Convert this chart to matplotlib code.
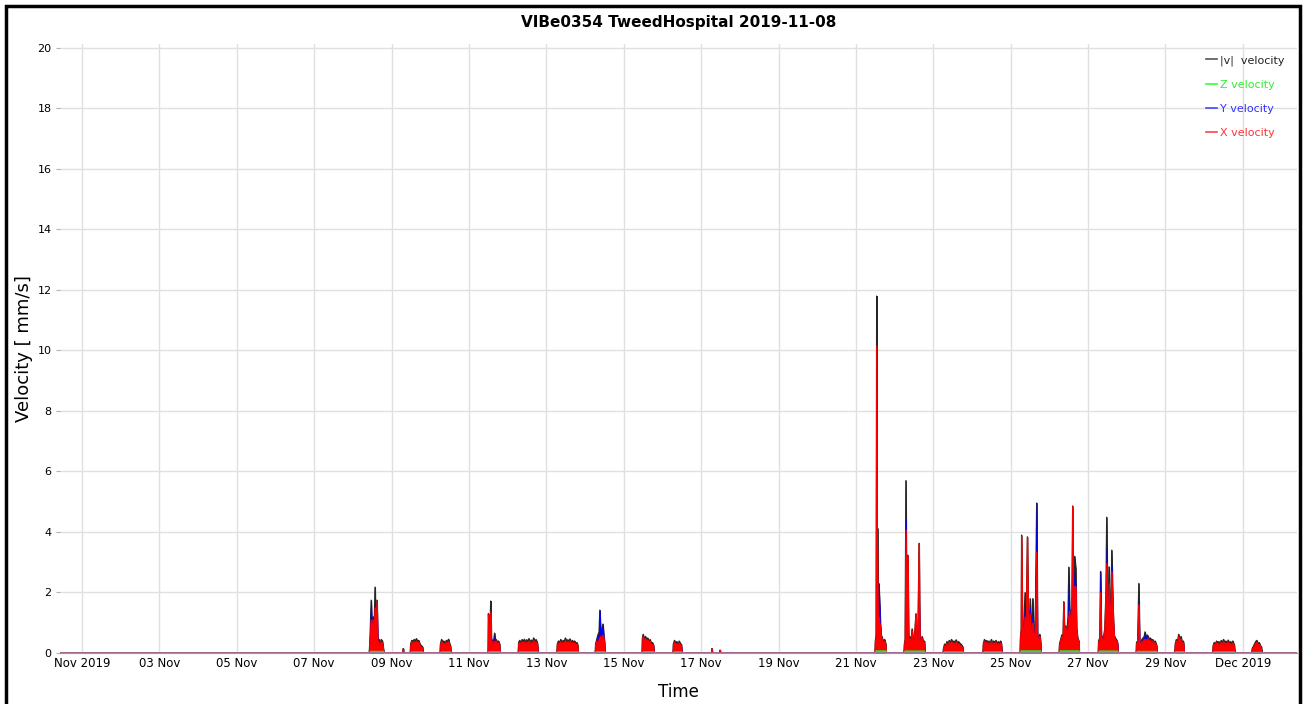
import numpy as np
import matplotlib
matplotlib.use("Agg")
import matplotlib.pyplot as plt
from matplotlib.lines import Line2D
from matplotlib.patches import Rectangle

# time in days after 1 Nov 2019 00:00, one list per working burst
burst_t = [
    [7.42, 7.44, 7.47, 7.49, 7.52, 7.55, 7.57, 7.59, 7.62, 7.64, 7.67, 7.70, 7.73, 7.76, 7.80],
    [8.29, 8.30, 8.31],
    [8.48, 8.49, 8.52, 8.55, 8.58, 8.61, 8.64, 8.67, 8.70, 8.73, 8.76, 8.79, 8.80, 8.81],
    [9.25, 9.26, 9.29, 9.32, 9.35, 9.38, 9.41, 9.44, 9.47, 9.50, 9.52, 9.53],
    [10.49, 10.50, 10.52, 10.545, 10.56, 10.575, 10.60, 10.63, 10.66, 10.68, 10.70, 10.73, 10.76, 10.79, 10.80],
    [11.27, 11.28, 11.31, 11.34, 11.37, 11.40, 11.43, 11.46, 11.49, 11.52, 11.55, 11.58, 11.61, 11.64, 11.67, 11.70, 11.73, 11.76, 11.77, 11.78],
    [12.27, 12.28, 12.31, 12.34, 12.37, 12.40, 12.43, 12.46, 12.49, 12.52, 12.55, 12.58, 12.61, 12.64, 12.67, 12.70, 12.73, 12.76, 12.79, 12.81, 12.82],
    [13.26, 13.27, 13.30, 13.33, 13.36, 13.38, 13.40, 13.43, 13.46, 13.48, 13.50, 13.51],
    [14.47, 14.48, 14.50, 14.53, 14.56, 14.59, 14.62, 14.65, 14.68, 14.71, 14.74, 14.77, 14.78],
    [15.27, 15.28, 15.31, 15.34, 15.37, 15.40, 15.43, 15.46, 15.49, 15.50],
    [16.27, 16.28, 16.29, 16.48, 16.49, 16.50],
    [20.49, 20.50, 20.52, 20.535, 20.545, 20.555, 20.57, 20.59, 20.61, 20.63, 20.65, 20.68, 20.71, 20.74, 20.77, 20.78],
    [21.24, 21.25, 21.27, 21.29, 21.31, 21.34, 21.36, 21.39, 21.42, 21.45, 21.48, 21.51, 21.55, 21.57, 21.60, 21.63, 21.65, 21.68, 21.71, 21.74, 21.77, 21.78],
    [22.25, 22.26, 22.29, 22.32, 22.35, 22.38, 22.41, 22.44, 22.47, 22.50, 22.53, 22.56, 22.59, 22.62, 22.65, 22.68, 22.71, 22.74, 22.76, 22.77],
    [23.28, 23.29, 23.32, 23.35, 23.38, 23.41, 23.44, 23.47, 23.50, 23.53, 23.56, 23.59, 23.62, 23.65, 23.68, 23.71, 23.74, 23.76, 23.77],
    [24.24, 24.25, 24.27, 24.28, 24.30, 24.33, 24.37, 24.40, 24.43, 24.45, 24.48, 24.50, 24.53, 24.57, 24.60, 24.63, 24.67, 24.69, 24.72, 24.75, 24.77, 24.78],
    [25.25, 25.26, 25.29, 25.32, 25.35, 25.37, 25.39, 25.42, 25.45, 25.48, 25.50, 25.52, 25.55, 25.58, 25.60, 25.62, 25.65, 25.68, 25.70, 25.73, 25.76, 25.77],
    [26.26, 26.27, 26.30, 26.32, 26.34, 26.37, 26.40, 26.43, 26.46, 26.48, 26.50, 26.52, 26.54, 26.57, 26.59, 26.61, 26.64, 26.67, 26.70, 26.73, 26.76, 26.77],
    [27.24, 27.25, 27.28, 27.31, 27.33, 27.36, 27.39, 27.42, 27.45, 27.47, 27.50, 27.53, 27.55, 27.58, 27.61, 27.64, 27.67, 27.70, 27.73, 27.76, 27.77, 27.78],
    [28.24, 28.25, 28.28, 28.31, 28.34, 28.37, 28.40, 28.43, 28.46, 28.47, 28.48],
    [29.22, 29.23, 29.26, 29.29, 29.32, 29.35, 29.38, 29.41, 29.44, 29.47, 29.50, 29.53, 29.56, 29.59, 29.62, 29.65, 29.68, 29.71, 29.74, 29.77, 29.78, 29.79],
    [30.23, 30.24, 30.27, 30.30, 30.33, 30.36, 30.39, 30.42, 30.45, 30.48, 30.49],
]

# |v| velocity [mm/s]
burst_v = [
    [0, 0.5, 1.75, 0.9, 1.2, 1.0, 2.18, 0.8, 1.75, 0.5, 0.45, 0.3, 0.45, 0.4, 0],
    [0, 0.15, 0],
    [0, 0.3, 0.42, 0.38, 0.45, 0.4, 0.48, 0.35, 0.42, 0.3, 0.25, 0.22, 0.2, 0],
    [0, 0.3, 0.45, 0.35, 0.4, 0.28, 0.42, 0.38, 0.46, 0.3, 0.25, 0],
    [0, 1.3, 0.6, 1.0, 1.72, 0.5, 0.4, 0.35, 0.66, 0.4, 0.45, 0.35, 0.4, 0.3, 0],
    [0, 0.35, 0.42, 0.3, 0.45, 0.38, 0.46, 0.32, 0.44, 0.4, 0.48, 0.34, 0.43, 0.38, 0.5, 0.33, 0.45, 0.36, 0.3, 0],
    [0, 0.3, 0.4, 0.35, 0.45, 0.32, 0.42, 0.38, 0.5, 0.35, 0.44, 0.4, 0.47, 0.33, 0.42, 0.36, 0.4, 0.3, 0.35, 0.25, 0],
    [0, 0.3, 0.45, 0.6, 0.7, 1.42, 0.7, 0.8, 0.96, 0.6, 0.4, 0],
    [0, 0.5, 0.62, 0.45, 0.55, 0.42, 0.5, 0.38, 0.45, 0.3, 0.35, 0.25, 0],
    [0, 0.3, 0.42, 0.3, 0.38, 0.25, 0.4, 0.32, 0.28, 0],
    [0, 0.15, 0, 0, 0.1, 0],
    [0, 0.4, 0.6, 11.8, 0.8, 4.13, 1.0, 2.3, 1.65, 1.0, 0.6, 0.5, 0.35, 0.45, 0.3, 0],
    [0, 0.3, 0.45, 5.7, 0.5, 3.24, 0.4, 0.55, 0.35, 0.8, 0.4, 0.5, 1.3, 0.45, 0.5, 3.63, 0.5, 0.4, 0.55, 0.35, 0.4, 0],
    [0, 0.15, 0.3, 0.25, 0.38, 0.3, 0.42, 0.35, 0.45, 0.32, 0.4, 0.36, 0.44, 0.3, 0.38, 0.33, 0.3, 0.25, 0.2, 0],
    [0, 0.3, 0.45, 0.35, 0.42, 0.3, 0.4, 0.33, 0.45, 0.28, 0.4, 0.35, 0.42, 0.3, 0.38, 0.32, 0.4, 0.3, 0],
    [0, 0.5, 0.8, 3.9, 1.0, 0.7, 2.0, 0.9, 3.84, 1.0, 0.7, 1.8, 0.6, 1.8, 0.7, 0.5, 4.96, 0.6, 0.5, 0.62, 0.4, 0],
    [0, 0.3, 0.45, 0.6, 0.5, 1.7, 0.6, 0.9, 0.7, 1.2, 2.84, 1.5, 1.0, 1.5, 4.86, 1.2, 3.2, 2.8, 0.8, 0.5, 0.4, 0],
    [0, 0.4, 0.5, 2.7, 0.6, 0.5, 0.55, 0.8, 2.0, 4.49, 1.6, 1.2, 2.85, 1.4, 1.1, 3.4, 1.5, 0.6, 0.5, 0.45, 0.35, 0],
    [0, 0.35, 0.4, 2.3, 0.4, 0.35, 0.45, 0.5, 0.55, 0.7, 0.5, 0.6, 0.55, 0.45, 0.5, 0.4, 0.45, 0.35, 0.4, 0.3, 0.25, 0],
    [0, 0.3, 0.45, 0.38, 0.62, 0.4, 0.55, 0.35, 0.4, 0.3, 0],
    [0, 0.25, 0.35, 0.3, 0.4, 0.33, 0.38, 0.3, 0.42, 0.35, 0.45, 0.3, 0.4, 0.33, 0.43, 0.3, 0.38, 0.32, 0.4, 0.28, 0.25, 0],
    [0, 0.15, 0.22, 0.3, 0.38, 0.42, 0.3, 0.35, 0.25, 0.2, 0],
]

# Y velocity [mm/s]
burst_y = [
    [0, 0.4, 1.7, 0.7, 0.9, 0.8, 1.0, 0.6, 1.7, 0.3, 0.3, 0.2, 0.3, 0.3, 0],
    [0, 0.05, 0],
    [0, 0.2, 0.3, 0.25, 0.3, 0.3, 0.35, 0.25, 0.3, 0.2, 0.18, 0.15, 0.15, 0],
    [0, 0.2, 0.3, 0.25, 0.3, 0.2, 0.3, 0.25, 0.3, 0.2, 0.18, 0],
    [0, 0.5, 0.4, 0.9, 0.8, 0.3, 0.3, 0.3, 0.55, 0.3, 0.3, 0.25, 0.3, 0.2, 0],
    [0, 0.25, 0.3, 0.2, 0.3, 0.25, 0.3, 0.22, 0.3, 0.28, 0.33, 0.24, 0.3, 0.26, 0.35, 0.23, 0.3, 0.25, 0.2, 0],
    [0, 0.2, 0.28, 0.25, 0.3, 0.22, 0.3, 0.26, 0.35, 0.25, 0.3, 0.28, 0.33, 0.23, 0.3, 0.25, 0.28, 0.2, 0.25, 0.18, 0],
    [0, 0.2, 0.35, 0.5, 0.65, 1.4, 0.65, 0.75, 0.9, 0.5, 0.3, 0],
    [0, 0.35, 0.45, 0.3, 0.4, 0.3, 0.35, 0.28, 0.32, 0.2, 0.25, 0.18, 0],
    [0, 0.2, 0.3, 0.2, 0.26, 0.18, 0.28, 0.22, 0.2, 0],
    [0, 0.05, 0, 0, 0.04, 0],
    [0, 0.3, 0.4, 3.0, 0.6, 2.3, 0.8, 2.3, 1.6, 0.8, 0.4, 0.3, 0.25, 0.3, 0.2, 0],
    [0, 0.2, 0.3, 4.4, 0.3, 2.0, 0.3, 0.4, 0.25, 0.5, 0.3, 0.35, 0.8, 0.3, 0.35, 2.0, 0.35, 0.3, 0.4, 0.25, 0.3, 0],
    [0, 0.1, 0.2, 0.18, 0.26, 0.2, 0.3, 0.25, 0.3, 0.22, 0.28, 0.25, 0.3, 0.2, 0.26, 0.23, 0.2, 0.18, 0.14, 0],
    [0, 0.2, 0.3, 0.25, 0.3, 0.2, 0.28, 0.23, 0.3, 0.2, 0.28, 0.25, 0.3, 0.2, 0.26, 0.22, 0.28, 0.2, 0],
    [0, 0.3, 0.5, 1.2, 0.6, 0.5, 1.6, 0.6, 1.5, 0.6, 0.5, 1.5, 0.4, 1.35, 0.5, 0.4, 4.96, 0.4, 0.35, 0.45, 0.3, 0],
    [0, 0.2, 0.35, 0.5, 0.4, 1.0, 0.5, 0.7, 0.5, 1.0, 2.3, 1.2, 0.8, 1.0, 2.8, 0.9, 2.68, 2.2, 0.6, 0.4, 0.3, 0],
    [0, 0.3, 0.4, 2.68, 0.5, 0.4, 0.45, 0.6, 1.6, 3.5, 1.3, 1.0, 2.2, 1.1, 0.9, 2.9, 1.2, 0.45, 0.4, 0.35, 0.3, 0],
    [0, 0.25, 0.3, 1.75, 0.3, 0.3, 0.4, 0.45, 0.5, 0.65, 0.45, 0.55, 0.5, 0.4, 0.4, 0.3, 0.35, 0.3, 0.3, 0.25, 0.2, 0],
    [0, 0.2, 0.3, 0.25, 0.4, 0.28, 0.35, 0.22, 0.26, 0.2, 0],
    [0, 0.15, 0.22, 0.18, 0.26, 0.2, 0.24, 0.18, 0.27, 0.22, 0.28, 0.18, 0.25, 0.2, 0.27, 0.18, 0.24, 0.2, 0.25, 0.17, 0.15, 0],
    [0, 0.1, 0.14, 0.18, 0.24, 0.26, 0.18, 0.22, 0.15, 0.12, 0],
]

# X velocity [mm/s]
burst_x = [
    [0, 0.4, 1.1, 0.8, 1.1, 0.9, 1.5, 0.7, 1.7, 0.4, 0.35, 0.25, 0.38, 0.32, 0],
    [0, 0.14, 0],
    [0, 0.25, 0.36, 0.32, 0.38, 0.34, 0.4, 0.3, 0.36, 0.25, 0.2, 0.18, 0.16, 0],
    [0, 0.25, 0.38, 0.3, 0.33, 0.22, 0.36, 0.3, 0.38, 0.25, 0.2, 0],
    [0, 1.28, 0.5, 0.6, 1.37, 0.45, 0.35, 0.3, 0.4, 0.35, 0.4, 0.3, 0.35, 0.25, 0],
    [0, 0.3, 0.36, 0.25, 0.38, 0.32, 0.38, 0.27, 0.37, 0.34, 0.4, 0.28, 0.36, 0.32, 0.42, 0.27, 0.38, 0.3, 0.25, 0],
    [0, 0.25, 0.34, 0.3, 0.38, 0.27, 0.36, 0.32, 0.42, 0.3, 0.37, 0.34, 0.4, 0.28, 0.36, 0.3, 0.34, 0.25, 0.3, 0.2, 0],
    [0, 0.25, 0.4, 0.3, 0.45, 0.5, 0.55, 0.45, 0.6, 0.5, 0.35, 0],
    [0, 0.45, 0.55, 0.4, 0.48, 0.36, 0.44, 0.33, 0.4, 0.25, 0.3, 0.2, 0],
    [0, 0.25, 0.36, 0.25, 0.32, 0.2, 0.34, 0.27, 0.22, 0],
    [0, 0.14, 0, 0, 0.09, 0],
    [0, 0.35, 0.55, 10.15, 0.7, 3.5, 0.9, 1.2, 1.0, 0.9, 0.55, 0.45, 0.3, 0.4, 0.25, 0],
    [0, 0.25, 0.4, 4.07, 0.45, 3.2, 0.35, 0.5, 0.3, 0.75, 0.35, 0.45, 1.3, 0.4, 0.45, 3.6, 0.45, 0.35, 0.5, 0.3, 0.35, 0],
    [0, 0.12, 0.25, 0.2, 0.32, 0.25, 0.36, 0.3, 0.38, 0.27, 0.34, 0.3, 0.37, 0.25, 0.32, 0.28, 0.25, 0.2, 0.15, 0],
    [0, 0.25, 0.38, 0.3, 0.36, 0.25, 0.34, 0.28, 0.38, 0.23, 0.34, 0.3, 0.36, 0.25, 0.32, 0.27, 0.34, 0.25, 0],
    [0, 0.45, 0.75, 3.85, 0.9, 0.65, 1.2, 0.85, 3.84, 0.9, 0.65, 1.3, 0.55, 1.0, 0.65, 0.45, 3.35, 0.55, 0.45, 0.55, 0.35, 0],
    [0, 0.25, 0.4, 0.55, 0.45, 1.68, 0.55, 0.85, 0.65, 0.9, 1.2, 1.4, 0.9, 1.4, 4.86, 1.1, 2.2, 2.2, 0.75, 0.45, 0.35, 0],
    [0, 0.35, 0.45, 2.0, 0.55, 0.45, 0.5, 0.75, 1.9, 2.97, 1.5, 1.1, 2.3, 1.3, 1.0, 2.7, 1.5, 0.55, 0.45, 0.4, 0.3, 0],
    [0, 0.3, 0.35, 1.6, 0.35, 0.3, 0.38, 0.4, 0.45, 0.45, 0.42, 0.45, 0.48, 0.38, 0.42, 0.35, 0.4, 0.3, 0.35, 0.25, 0.2, 0],
    [0, 0.25, 0.4, 0.33, 0.55, 0.35, 0.48, 0.3, 0.35, 0.25, 0],
    [0, 0.2, 0.3, 0.25, 0.35, 0.28, 0.32, 0.25, 0.36, 0.3, 0.38, 0.25, 0.34, 0.28, 0.37, 0.25, 0.32, 0.27, 0.34, 0.23, 0.2, 0],
    [0, 0.12, 0.18, 0.25, 0.32, 0.36, 0.25, 0.3, 0.2, 0.15, 0],
]

# Z velocity stays tiny: start/end of each burst and its level
z_start = [7.42, 8.48, 9.25, 10.49, 11.27, 12.27, 13.26, 14.47, 15.27, 20.49, 21.24, 22.25, 23.28, 24.24, 25.25, 26.26, 27.24, 28.24, 29.22, 30.23]
z_end = [7.80, 8.81, 9.53, 10.80, 11.78, 12.82, 13.51, 14.78, 15.50, 20.78, 21.78, 22.77, 23.77, 24.78, 25.77, 26.77, 27.78, 28.48, 29.79, 30.49]
z_level = [0.08, 0.06, 0.06, 0.07, 0.06, 0.06, 0.07, 0.07, 0.06, 0.1, 0.09, 0.06, 0.06, 0.1, 0.1, 0.09, 0.08, 0.07, 0.06, 0.05]

tick_days = [0, 2, 4, 6, 8, 10, 12, 14, 16, 18, 20, 22, 24, 26, 28, 30]
tick_labels = ['Nov 2019', '03 Nov', '05 Nov', '07 Nov', '09 Nov', '11 Nov', '13 Nov', '15 Nov',
               '17 Nov', '19 Nov', '21 Nov', '23 Nov', '25 Nov', '27 Nov', '29 Nov', 'Dec 2019']

x_min, x_max = -0.57, 31.4

t = np.concatenate([[x_min]] + [np.array(b) for b in burst_t] + [[x_max]])
v = np.concatenate([[0]] + [np.array(b, float) for b in burst_v] + [[0]])
vy = np.concatenate([[0]] + [np.array(b, float) for b in burst_y] + [[0]])
vx = np.concatenate([[0]] + [np.array(b, float) for b in burst_x] + [[0]])

zt = [x_min]
zv = [0]
for s, e, lv in zip(z_start, z_end, z_level):
    zt += [s, s + 0.01, e - 0.01, e]
    zv += [0, lv, lv, 0]
zt.append(x_max)
zv.append(0)

fig = plt.figure(figsize=(13.03, 7.04), dpi=100)
ax = fig.add_axes([60 / 1303, 1 - 653 / 704, (1297 - 60) / 1303, (653 - 44) / 704])

ax.fill_between(t, 0, v, color='#262626', lw=0.8, zorder=2)
ax.plot(t, v, color='#262626', lw=0.8, zorder=2)
ax.fill_between(t, 0, vy, color='#0000ff', lw=0.6, zorder=3)
ax.fill_between(t, 0, vx, color='#ff0000', lw=0.6, zorder=4)
ax.plot(t, vx, color='#ff0000', lw=0.6, zorder=4)
ax.fill_between(zt, 0, zv, color='#33dd33', lw=0.4, zorder=5)
ax.plot([x_min, x_max], [0, 0], color='#a070a0', lw=1.2, zorder=6)

ax.set_xlim(x_min, x_max)
ax.set_ylim(0, 20.13)
ax.set_xticks(tick_days)
ax.set_xticklabels(tick_labels)
ax.set_yticks(range(0, 21, 2))
ax.grid(True, color='#e0e0e0', lw=1)
ax.set_axisbelow(True)
for s in ['top', 'right', 'left']:
    ax.spines[s].set_visible(False)
ax.spines['bottom'].set_color('#a0a0a0')
ax.tick_params(axis='y', length=3, color='#b0b0b0', labelsize=8, pad=3)
ax.tick_params(axis='x', length=0, labelsize=8.5, pad=3)

ax.set_ylabel('Velocity [ mm/s]', fontsize=13)
ax.yaxis.set_label_coords(-27 / 1237, 0.5)
ax.set_xlabel('Time', fontsize=12, labelpad=9)
fig.text(679 / 1303, 1 - 22 / 704, 'VIBe0354 TweedHospital 2019-11-08', ha='center', va='center',
         fontsize=11, fontweight='bold')

handles = [Line2D([], [], color='#555555', lw=1.2),
           Line2D([], [], color='#33ff33', lw=1.2),
           Line2D([], [], color='#4444ff', lw=1.2),
           Line2D([], [], color='#ff4444', lw=1.2)]
names = ['|v|  velocity', 'Z velocity', 'Y velocity', 'X velocity']
leg = ax.legend(handles, names, loc='upper right', bbox_to_anchor=(0.998, 0.998), frameon=False,
                fontsize=8, handlelength=1.0, handletextpad=0.3, labelspacing=1.28)
for txt, c in zip(leg.get_texts(), ['#222222', '#33ee33', '#3333ff', '#ff3333']):
    txt.set_color(c)

fig.add_artist(Rectangle((6 / 1303, -0.05), (1300 - 6) / 1303, 1 - 6 / 704 + 0.05,
                         transform=fig.transFigure, fill=False, lw=2.5, ec='black', clip_on=False))

fig.savefig('out.png', dpi=100)
